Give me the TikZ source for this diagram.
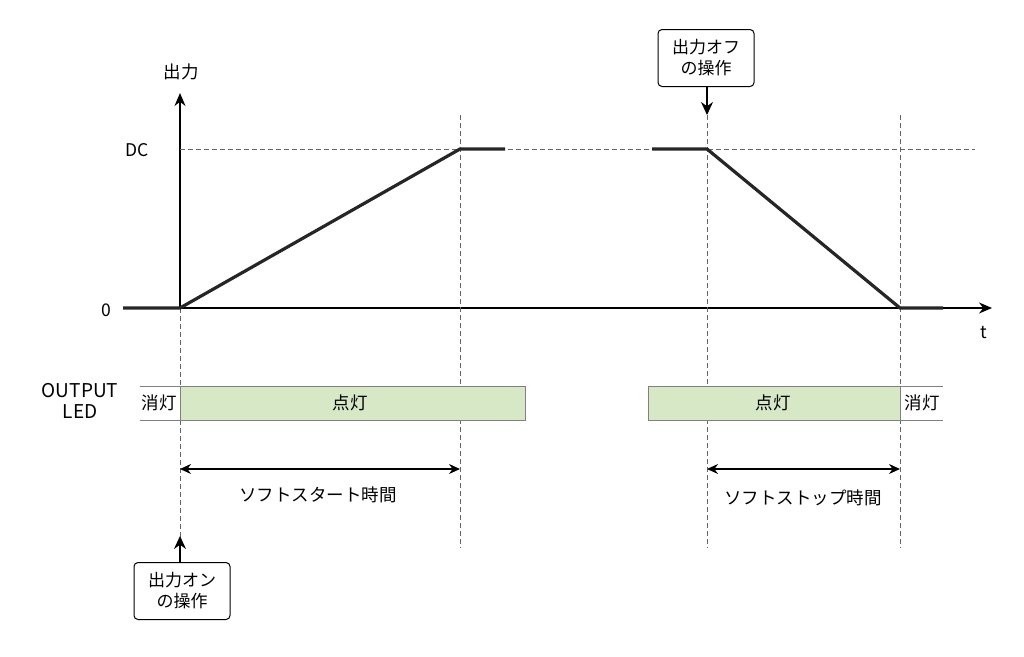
\documentclass[tikz,border=0pt]{standalone}
\usepackage{fontspec}
\setmainfont{Noto Sans CJK JP}
\usetikzlibrary{arrows.meta}
\definecolor{ledg}{HTML}{D6E8C6}
\begin{document}
\begin{tikzpicture}[x=1pt,y=-1pt,
  guide/.style={gray!80!black,line width=0.7pt,dash pattern=on 5pt off 3pt},
  sig/.style={line width=3.2pt,black!85},
  lbl/.style={font=\fontsize{17.5}{20}\selectfont,inner sep=0pt},
  box/.style={draw,rounded corners=4pt,line width=1pt,align=center,font=\fontsize{17}{21}\selectfont,minimum width=96pt,minimum height=57pt,inner sep=2pt},
  dbl/.style={{Stealth[length=11pt,width=10pt]}-{Stealth[length=11pt,width=10pt]},line width=1.3pt}]
\useasboundingbox (0,0) rectangle (1024,656);
% axes
\coordinate (O) at (180,308);
\coordinate (ytop) at (180,93);
\coordinate (xend) at (992,308);
\draw[line width=1.2pt,-{Stealth[length=13pt,width=11pt]}] (O) -- (ytop);
\draw[line width=1.2pt,-{Stealth[length=13pt,width=11pt]}] (O) -- (xend);
\node[lbl] (yl) at (181,72) {出力};
\node[lbl] (tl) at (984,333) {t};
\node[lbl] (dc) at (137,150) {DC};
\node[lbl] (zero) at (106,310) {0};
% dashed
\draw[guide] (180,149) -- (975,149);
\draw[guide] (180,308) -- (180,540);
\draw[guide] (460,115) -- (460,548);
\draw[guide] (707,115) -- (707,548);
\draw[guide] (900,115) -- (900,548);
% signal
\draw[sig] (123,308) -- (180,308) -- (460,149) -- (505,149);
\draw[sig] (652,149) -- (707,149) -- (900,308) -- (943,308);
% LED
\node[lbl,align=center,font=\fontsize{19}{21}\selectfont] (led) at (80,401) {OUTPUT\\LED};
\draw[gray,line width=0.9pt] (140,386) -- (180,386) (140,420) -- (180,420);
\draw[gray,line width=0.9pt] (900,386) -- (943,386) (900,420) -- (943,420);
\draw[gray,line width=0.9pt,fill=ledg] (180,386) rectangle (525,420);
\draw[gray,line width=0.9pt,fill=ledg] (648,386) rectangle (900,420);
\node[lbl] (off1) at (159,403) {消灯};
\node[lbl] (on1) at (350,403) {点灯};
\node[lbl] (on2) at (773,403) {点灯};
\node[lbl] (off2) at (922,403) {消灯};
% durations
\coordinate (a1) at (180,469); \coordinate (a2) at (460,469);
\coordinate (b1) at (707,469); \coordinate (b2) at (900,469);
\draw[dbl] (a1) -- (a2);
\draw[dbl] (b1) -- (b2);
\node[lbl] (ss) at (318,495) {ソフトスタート時間};
\node[lbl] (sp) at (803,498) {ソフトストップ時間};
% operation boxes
\node[box] (onb) at (182,591) {出力オン\\の操作};
\node[box] (offb) at (706,58) {出力オフ\\の操作};
\coordinate (onarr) at (180,536);
\coordinate (offarr) at (707,115);
\draw[line width=1.2pt,-{Stealth[length=13pt,width=12pt]}] (onb.north -| onarr) -- (onarr);
\draw[line width=1.2pt,-{Stealth[length=13pt,width=12pt]}] (offb.south -| offarr) -- (offarr);
\end{tikzpicture}
\end{document}
